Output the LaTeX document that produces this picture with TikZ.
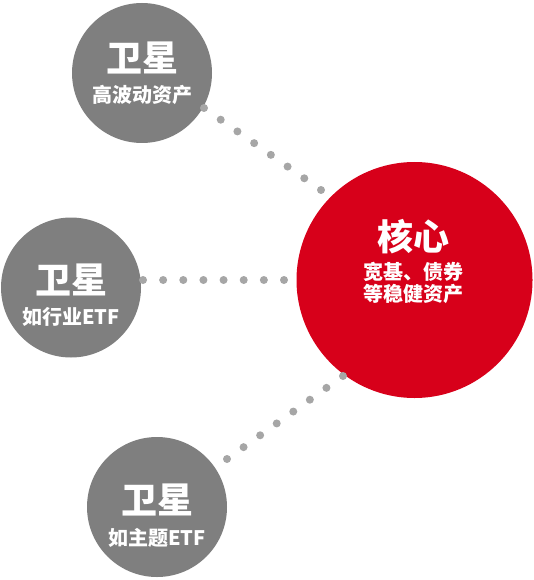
\documentclass[tikz,border=0pt]{standalone}
\usepackage{fontspec}
\newfontfamily\cjk{Noto Sans CJK SC}
\usetikzlibrary{calc}
\definecolor{sat}{HTML}{7F7F7F}
\definecolor{dotc}{HTML}{A6A6A6}
\definecolor{core}{HTML}{D7001A}
\tikzset{
  satc/.style={circle, fill=sat, minimum size=140pt, inner sep=0pt},
  corec/.style={circle, fill=core, minimum size=236pt, inner sep=0pt},
  bigt/.style={text=white, font=\cjk\bfseries\fontsize{36}{40}\selectfont, inner sep=0pt},
  smallt/.style={text=white, font=\cjk\bfseries\fontsize{20}{23}\selectfont, inner sep=0pt},
  dotf/.style={fill=dotc},
}
\begin{document}
\begin{tikzpicture}[x=1pt,y=-1pt]
\useasboundingbox (0,0) rectangle (533,580);
% circles
\node[satc] (s1) at (142,73) {};
\node[satc] (s2) at (71,287.5) {};
\node[satc] (s3) at (157,507) {};
\node[corec] (c) at (414.5,280) {};
% texts
\node[bigt] (s1a) at (142,58) {卫星};
\node[smallt] (s1b) at (142,95) {高波动资产};
\node[bigt] (s2a) at (71,280) {卫星};
\node[smallt] (s2b) at (71,317) {如行业ETF};
\node[bigt] (s3a) at (157,500) {卫星};
\node[smallt] (s3b) at (157,538) {如主题ETF};
\node[bigt] (ca) at (413,237) {核心};
\node[smallt] (cb) at (413,272) {宽基、债券};
\node[smallt] (cc) at (413,294) {等稳健资产};
% dotted connectors
\coordinate (t1) at (204,108); \coordinate (t2) at (321,190);
\coordinate (m1) at (143,280); \coordinate (m2) at (284,280);
\coordinate (b1) at (227,459); \coordinate (b2) at (343,376);
\foreach \i in {0,...,7} {
  \fill[dotf] ($(t1)!\i/7!(t2)$) circle (4);
  \fill[dotf] ($(m1)!\i/7!(m2)$) circle (4);
  \fill[dotf] ($(b1)!\i/7!(b2)$) circle (4);
}
\end{tikzpicture}
\end{document}
